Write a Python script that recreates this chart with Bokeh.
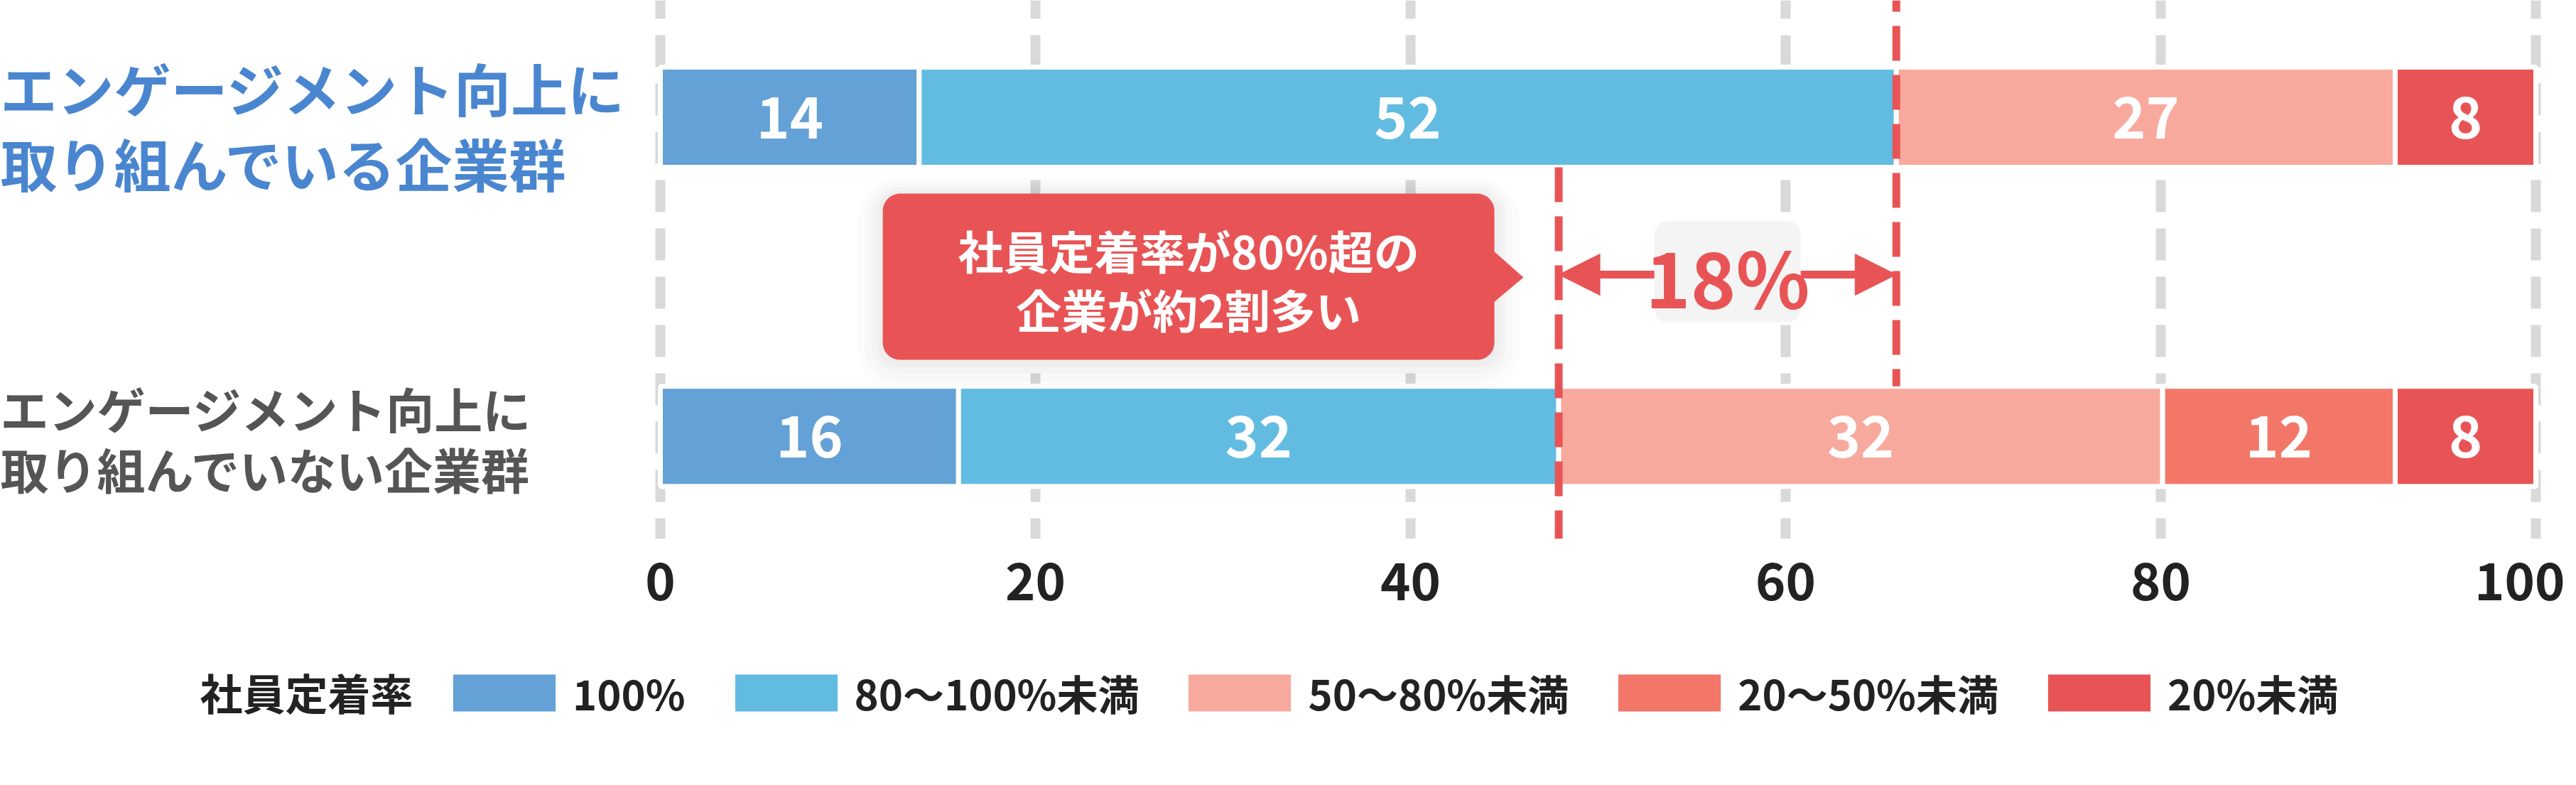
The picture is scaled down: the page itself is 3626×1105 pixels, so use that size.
import numpy as np
from bokeh.plotting import figure
from bokeh.layouts import column
from bokeh.models import (Range1d, FixedTicker, Label, Legend, LegendItem, Arrow,
                          NormalHead, ColumnDataSource, BoxAnnotation, PolyAnnotation)
from bokeh.core.properties import value
from bokeh.embed import file_html
from bokeh.resources import INLINE

# ---------------- data ----------------
groups = ["エンゲージメント向上に\n取り組んでいる企業群",
          "エンゲージメント向上に\n取り組んでいない企業群"]
categories = ["100%", "80〜100%未満", "50〜80%未満", "20〜50%未満", "20%未満"]
engaged = [13.8, 52.1, 26.6, 0.0, 7.5]          # bar widths
not_engaged = [15.9, 32.0, 32.2, 12.4, 7.5]
engaged_labels = ["14", "52", "27", "", "8"]     # printed values
not_engaged_labels = ["16", "32", "32", "12", "8"]
colors = ["#63a1d6", "#62bce2", "#f8a99e", "#f37768", "#e85455"]
x_ticks = [0, 20, 40, 60, 80, 100]
legend_title = "社員定着率"
callout_text = "社員定着率が80%超の\n企業が約2割多い"
gap_text = "18%"

FONT = "Noto Sans CJK JP"
RED = "#e85455"

# ---------------- geometry ----------------
W = 3610
H1, H2 = 900, 189
X0_PX, X100_PX = 929, 3569          # canvas x of 0 and 100
px_x = (X100_PX - X0_PX) / 100.0
x_lo = -X0_PX / px_x
x_hi = 100 + (W - X100_PX) / px_x
FRAME_H = 758
px_y = 449.2
y_end = 1 + 164.5 / px_y
y_start = y_end - FRAME_H / px_y
bar_h = 141 / px_y

def dx(px):
    return px / px_x

def dy(px):
    return px / px_y

p = figure(width=W, height=H1, x_range=Range1d(x_lo, x_hi), y_range=Range1d(y_start, y_end),
           output_backend="svg", toolbar_location=None, title=None,
           min_border_left=0, min_border_right=0, min_border_top=0,
           min_border_bottom=H1 - FRAME_H)
p.outline_line_color = None
p.yaxis.visible = False
p.ygrid.visible = False

p.xgrid.ticker = FixedTicker(ticks=x_ticks)
p.xgrid.grid_line_color = "#d9d9d9"
p.xgrid.grid_line_width = 14
p.xgrid.grid_line_dash = "45 23"
p.xgrid.grid_line_dash_offset = 16

ax = p.xaxis[0]
ax.ticker = FixedTicker(ticks=x_ticks)
ax.axis_line_color = None
ax.major_tick_line_color = None
ax.minor_tick_line_color = None
ax.major_tick_out = 0
ax.major_label_standoff = 33
ax.major_label_text_font = FONT
ax.major_label_text_font_size = "72px"
ax.major_label_text_font_style = "bold"
ax.major_label_text_color = "#222222"

# ---------------- stacked bars ----------------
ypos = [len(groups) - 1 - i for i in range(len(groups))]
data = {"y": ypos}
for j, c in enumerate(categories):
    data[c] = [engaged[j], not_engaged[j]]
src = ColumnDataSource(data)
p.hbar_stack(categories, y="y", height=bar_h, color=colors, source=src,
             line_color="white", line_width=7)

vals = np.array([engaged, not_engaged])
labs = [engaged_labels, not_engaged_labels]
cum = np.cumsum(vals, axis=1)
lx, ly, lt = [], [], []
for i in range(len(groups)):
    for j in range(len(categories)):
        if labs[i][j]:
            lx.append(cum[i, j] - vals[i, j] / 2)
            ly.append(ypos[i])
            lt.append(labs[i][j])
p.text(x=lx, y=ly, text=lt, text_color="white", text_font=value(FONT),
       text_font_size="80px", text_font_style="bold", text_align="center",
       text_baseline="middle")

# red dashed reference lines (share of 80% or more)
top_share = cum[0, 1]
bottom_share = cum[1, 1]
p.segment(x0=[top_share], y0=[y_end], x1=[top_share], y1=[ypos[1] + bar_h / 2],
          line_color=RED, line_width=11, line_dash="49 20", line_dash_offset=33)
p.segment(x0=[bottom_share], y0=[ypos[0] - bar_h / 2], x1=[bottom_share], y1=[y_start],
          line_color=RED, line_width=11, line_dash="49 20")

# ---------------- group labels ----------------
p.add_layout(Label(x=x_lo, y=ypos[0], y_offset=-10, text=groups[0],
                   text_font=FONT, text_font_size="80px", text_font_style="bold",
                   text_color="#4a86d0", text_align="left", text_baseline="middle",
                   text_line_height=0.92))
p.add_layout(Label(x=x_lo, y=ypos[1], y_offset=-3, text=groups[1],
                   text_font=FONT, text_font_size="68px", text_font_style="bold",
                   text_color="#555555", text_align="left", text_baseline="middle",
                   text_line_height=0.86))

# ---------------- callout ----------------
y_mid = (ypos[0] + ypos[1]) / 2
c_left, c_right, c_tip = 11.86, 44.47, 46.02
c_half = dy(117)
for k, a in zip([36, 26, 16, 8], [0.012, 0.015, 0.018, 0.02]):
    p.add_layout(BoxAnnotation(left=c_left - dx(k), right=c_right + dx(k),
                               top=y_mid + c_half + dy(k * 0.6), bottom=y_mid - c_half - dy(k * 1.2),
                               fill_color="black", fill_alpha=a, line_color=None,
                               border_radius=24 + k))
p.add_layout(BoxAnnotation(left=c_left, right=c_right, top=y_mid + c_half,
                           bottom=y_mid - c_half, fill_color=RED, fill_alpha=1,
                           line_color=None, border_radius=24))
p.add_layout(PolyAnnotation(xs=[c_right - dx(2), c_tip, c_right - dx(2)],
                            ys=[y_mid + dy(37), y_mid - dy(1), y_mid - dy(37)],
                            fill_color=RED, fill_alpha=1, line_color=None))
p.add_layout(Label(x=(c_left + c_right) / 2, y=y_mid, y_offset=-3, text=callout_text,
                   text_font=FONT, text_font_size="64px", text_font_style="bold",
                   text_color="white", text_align="center", text_baseline="middle",
                   text_line_height=0.9))

# ---------------- gap arrow ----------------
y_arrow = y_mid + dy(3)
p.add_layout(Arrow(start=NormalHead(size=58, fill_color=RED, line_color=RED, line_width=1),
                   end=NormalHead(size=58, fill_color=RED, line_color=RED, line_width=1),
                   x_start=bottom_share, x_end=top_share, y_start=y_arrow, y_end=y_arrow,
                   line_color=RED, line_width=11))
g_mid = (bottom_share + top_share) / 2
p.add_layout(BoxAnnotation(left=g_mid - dx(103), right=g_mid + dx(103),
                           top=y_arrow + dy(75), bottom=y_arrow - dy(67),
                           fill_color="#f4f4f4", fill_alpha=1, line_color=None,
                           border_radius=18))
p.add_layout(Label(x=g_mid, y=y_arrow, text=gap_text, text_font=FONT,
                   text_font_size="108px", text_font_style="bold", text_color=RED,
                   text_align="center", text_baseline="middle"))

# ---------------- legend (own strip below the chart) ----------------
q = figure(width=W, height=H2, x_range=Range1d(0, W), y_range=Range1d(0, H2),
           output_backend="svg", toolbar_location=None, title=None,
           min_border_left=0, min_border_right=0, min_border_top=0, min_border_bottom=0)
q.outline_line_color = None
q.axis.visible = False
q.grid.visible = False
# legend keys only (no data drawn)
leg_rs = [q.hbar(y=[np.nan], right=[np.nan], height=1, fill_color=c,
                 line_color="white", line_width=7) for c in colors]
ROW_Y = H2 - (973 - H1)
q.add_layout(Label(x=281, y=ROW_Y, text=legend_title,
                   text_font=FONT, text_font_size="60px", text_font_style="bold",
                   text_color="#222222", text_align="left", text_baseline="middle"))
legend = Legend(items=[LegendItem(label=c, renderers=[r]) for c, r in zip(categories, leg_rs)],
                orientation="horizontal", location=(615, ROW_Y - 44),
                glyph_width=189, glyph_height=74, label_standoff=2, spacing=47,
                padding=0, margin=0, border_line_color=None, background_fill_alpha=0,
                label_text_font=FONT, label_text_font_size="58px",
                label_text_font_style="bold", label_text_color="#222222")
q.add_layout(legend)

layout = column(p, q, spacing=0)
open("out.html", "w").write(file_html(layout, INLINE))
